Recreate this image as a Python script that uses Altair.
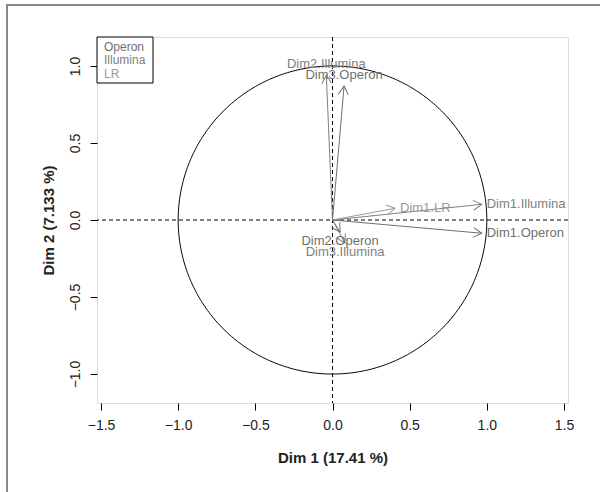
import altair as alt
import pandas as pd
import numpy as np

# ---- data ----
variables = ["Dim1.Operon", "Dim1.Illumina", "Dim1.LR", "Dim2.Illumina",
             "Dim3.Operon", "Dim2.Operon", "Dim3.Illumina"]
groups = ["Operon", "Illumina", "LR", "Illumina", "Operon", "Operon", "Illumina"]
coord_x = [0.967, 0.967, 0.405, -0.04, 0.075, 0.049, 0.081]
coord_y = [-0.086, 0.102, 0.076, 0.94, 0.87, -0.078, -0.15]
label_side = ["right", "right", "right", "above", "above", "below", "below"]

legend_groups = ["Operon", "Illumina", "LR"]
group_colors = ["#707070", "#808080", "#9a9a9a"]

x_ticks = [-1.5, -1.0, -0.5, 0.0, 0.5, 1.0, 1.5]
y_ticks = [-1.0, -0.5, 0.0, 0.5, 1.0]
x_title = "Dim 1 (17.41 %)"
y_title = "Dim 2 (7.133 %)"

FONT = "Liberation Sans"
W, H = 471, 366
XD = [-1.526, 1.526]
YD = [-1.188, 1.188]

df = pd.DataFrame({"var": variables, "group": groups, "x": coord_x, "y": coord_y,
                   "side": label_side})
df["x0"] = 0.0
df["y0"] = 0.0
df["ang"] = (np.degrees(np.arctan2(-df["y"], df["x"])) + 360) % 360

# unit correlation circle (reference geometry, not data)
t = np.linspace(0, 2 * np.pi, 361)
circle = pd.DataFrame({"cx": np.cos(t), "cy": np.sin(t), "o": np.arange(361)})

xs = alt.Scale(domain=XD, nice=False, zero=False)
ys = alt.Scale(domain=YD, nice=False, zero=False)
cs = alt.Scale(domain=legend_groups, range=group_colors)

xaxis = alt.Axis(values=x_ticks, format=".1f", title=x_title, grid=False, domain=False,
                 tickSize=7, tickColor="black", labelPadding=8, labelFontSize=14,
                 labelFont=FONT, labelColor="#222", titleFont=FONT, titleFontSize=15,
                 titleFontWeight="bold", titleColor="#222", titlePadding=18)
yaxis = alt.Axis(values=y_ticks, format=".1f", title=y_title, grid=False, domain=False,
                 tickSize=7, tickColor="black", labelPadding=8, labelFontSize=14,
                 labelFont=FONT, labelColor="#222", labelAngle=270, labelAlign="center",
                 labelBaseline="bottom", titleFont=FONT, titleFontSize=15,
                 titleFontWeight="bold", titleColor="#222", titlePadding=12)

base_circle = alt.Chart(circle).mark_line(color="black", strokeWidth=1).encode(
    x=alt.X("cx:Q", scale=xs, axis=xaxis),
    y=alt.Y("cy:Q", scale=ys, axis=yaxis),
    order="o:Q",
)

zero = pd.DataFrame({"v": [0.0]})
vline = alt.Chart(zero).mark_rule(color="black", strokeDash=[4, 3], strokeWidth=1).encode(
    x=alt.X("v:Q", scale=xs))
hline = alt.Chart(zero).mark_rule(color="black", strokeDash=[4, 3], strokeWidth=1).encode(
    y=alt.Y("v:Q", scale=ys))

shafts = alt.Chart(df).mark_rule(strokeWidth=1).encode(
    x=alt.X("x0:Q", scale=xs), x2="x:Q",
    y=alt.Y("y0:Q", scale=ys), y2="y:Q",
    color=alt.Color("group:N", scale=cs, legend=None),
)
heads = alt.Chart(df).mark_point(
    shape="M -1 -0.58 L 0 0 L -1 0.58", filled=False, size=280, strokeWidth=1, opacity=1
).encode(
    x=alt.X("x:Q", scale=xs), y=alt.Y("y:Q", scale=ys),
    angle=alt.Angle("ang:Q", scale=None),
    color=alt.Color("group:N", scale=cs, legend=None),
)

def labels(side, **kw):
    return alt.Chart(df).transform_filter(alt.datum.side == side).mark_text(
        font=FONT, fontSize=13, **kw
    ).encode(
        x=alt.X("x:Q", scale=xs), y=alt.Y("y:Q", scale=ys), text="var:N",
        color=alt.Color("group:N", scale=cs, legend=None),
    )

lab_right = labels("right", align="left", baseline="middle", dx=5)
lab_above = labels("above", align="center", baseline="bottom", dy=-4)
lab_below = labels("below", align="center", baseline="top", dy=3)

# legend box (R-style, top-left corner)
leg_box = alt.Chart(zero).mark_rect(
    fill="white", stroke="black", strokeWidth=1
).encode(x=alt.value(0), x2=alt.value(56), y=alt.value(0), y2=alt.value(46))
leg_texts = [
    alt.Chart(zero).mark_text(
        font=FONT, fontSize=12, align="left", baseline="middle",
        color=group_colors[i]
    ).encode(x=alt.value(7), y=alt.value(10 + 13.3 * i), text=alt.value(g))
    for i, g in enumerate(legend_groups)
]

# outer grey frame of the figure
frame_v = alt.Chart(zero).mark_rule(color="#8a8a8a", strokeWidth=2, clip=False).encode(
    x=alt.value(-90), y=alt.value(-32), y2=alt.value(460))
frame_h = alt.Chart(zero).mark_rule(color="#8a8a8a", strokeWidth=2, clip=False).encode(
    y=alt.value(-32), x=alt.value(-91), x2=alt.value(510))

chart = alt.layer(
    base_circle, vline, hline, shafts, heads, lab_right, lab_above, lab_below,
    leg_box, *leg_texts, frame_v, frame_h
).properties(
    width=W, height=H,
    autosize=alt.AutoSizeParams(type="none"),
    padding={"left": 97, "top": 37, "right": 32, "bottom": 89},
).configure_view(stroke="black", strokeWidth=1).configure(background="white")

chart.save("out.html", embed_options={"renderer": "svg", "actions": False})
